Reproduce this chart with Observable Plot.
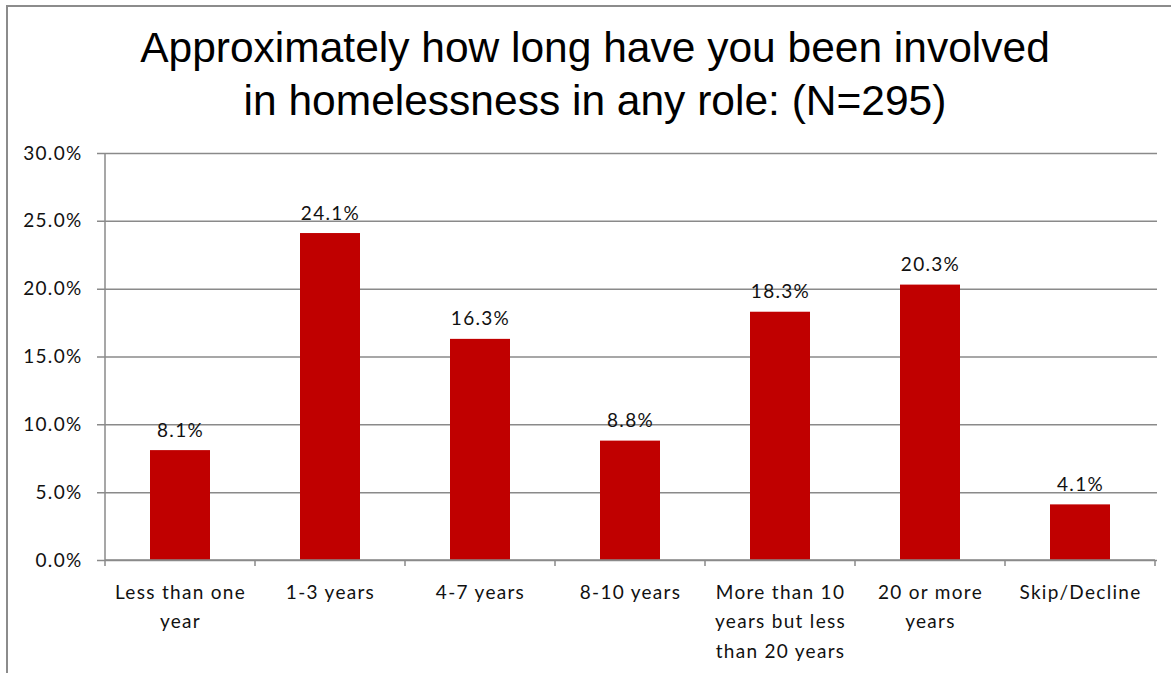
<!DOCTYPE html>
<html>
<head>
<meta charset="utf-8">
<script src="https://cdn.jsdelivr.net/npm/d3@7"></script>
<script src="https://cdn.jsdelivr.net/npm/@observablehq/plot@0.6"></script>
<style>
  html, body { margin: 0; padding: 0; background: #fff; }
  #wrap { position: relative; width: 1171px; height: 673px; overflow: hidden; background: #fff; }
  #frame { position: absolute; left: 6px; top: 5px; width: 1200px; height: 700px;
           border-left: 2px solid #8c8c8c; border-top: 2px solid #8c8c8c; pointer-events: none; }
  #title { position: absolute; left: 0; top: 21px; width: 1190px; text-align: center;
           font-family: "Liberation Sans", Arial, sans-serif; font-size: 42.5px; line-height: 53px; color: #000; }
  #chart { position: absolute; left: 0; top: 140px; }
  #chart svg { background: transparent !important; }
</style>
</head>
<body>
<div id="wrap">
  <div id="title">Approximately how long have you been involved<br>in homelessness in any role: (N=295)</div>
  <div id="chart"></div>
  <div id="frame"></div>
</div>
<script>
const categories = ["Less than one year", "1-3 years", "4-7 years", "8-10 years",
  "More than 10 years but less than 20 years", "20 or more years", "Skip/Decline"];
const tickLabels = ["Less than one\nyear", "1-3 years", "4-7 years", "8-10 years",
  "More than 10\nyears but less\nthan 20 years", "20 or more\nyears", "Skip/Decline"];
const values = [8.1, 24.1, 16.3, 8.8, 18.3, 20.3, 4.1];
const yTicks = [0, 5, 10, 15, 20, 25, 30];

const data = categories.map((c, i) => ({category: c, label: tickLabels[i], value: values[i]}));
const font = "Lato, 'Open Sans', sans-serif";
const gray = "#8a8a8a";

function axisLines(index, scales, values, dimensions) {
  const x = scales.x, y = scales.y;
  const bw = x.bandwidth();
  const st = x.step ? x.step() : (dimensions.width - dimensions.marginLeft - dimensions.marginRight) / categories.length;
  const y0 = y(0), yTop = y(30);
  const g = d3.create("svg:g").attr("stroke", gray).attr("stroke-width", 1.5);
  const xs = categories.map(c => x(c) - (st - bw) / 2);
  xs.push(x(categories[categories.length - 1]) + bw + (st - bw) / 2);
  for (const px of xs) g.append("line").attr("x1", px).attr("x2", px).attr("y1", y0).attr("y2", y0 + 6);
  g.append("line").attr("x1", xs[0]).attr("x2", xs[xs.length - 1]).attr("y1", y0).attr("y2", y0);
  g.append("line").attr("x1", xs[0]).attr("x2", xs[0]).attr("y1", yTop).attr("y2", y0);
  return g.node();
}

const chart = Plot.plot({
  width: 1171,
  height: 533,
  marginTop: 13,
  marginBottom: 113,
  marginLeft: 103,
  marginRight: 14,
  style: {fontFamily: font, fontSize: "19px", color: "#111", background: "transparent", letterSpacing: "1.3px"},
  x: {domain: categories, paddingInner: 0.6, paddingOuter: 0.3, axis: null},
  y: {domain: [0, 30], axis: null},
  marks: [
    Plot.ruleY(yTicks, {stroke: gray, strokeWidth: 1.5, strokeOpacity: 1, insetLeft: -6}),
    Plot.text(yTicks, {y: d => d, frameAnchor: "left", dx: -21, textAnchor: "end",
      text: d => d.toFixed(1) + "%", fontSize: 19, fill: "#111"}),
    Plot.barY(data, {x: "category", y: "value", fill: "#c00000"}),
    axisLines,
    Plot.text(data, {x: "category", y: "value", text: d => d.value.toFixed(1) + "%",
      lineAnchor: "bottom", dy: -14, fontSize: 19, fill: "#111"}),
    Plot.text(data, {x: "category", text: "label", frameAnchor: "bottom", lineAnchor: "top",
      dy: 17, lineHeight: 1.56, fontSize: 19, fill: "#111"})
  ]
});
document.getElementById("chart").appendChild(chart);
</script>
</body>
</html>
